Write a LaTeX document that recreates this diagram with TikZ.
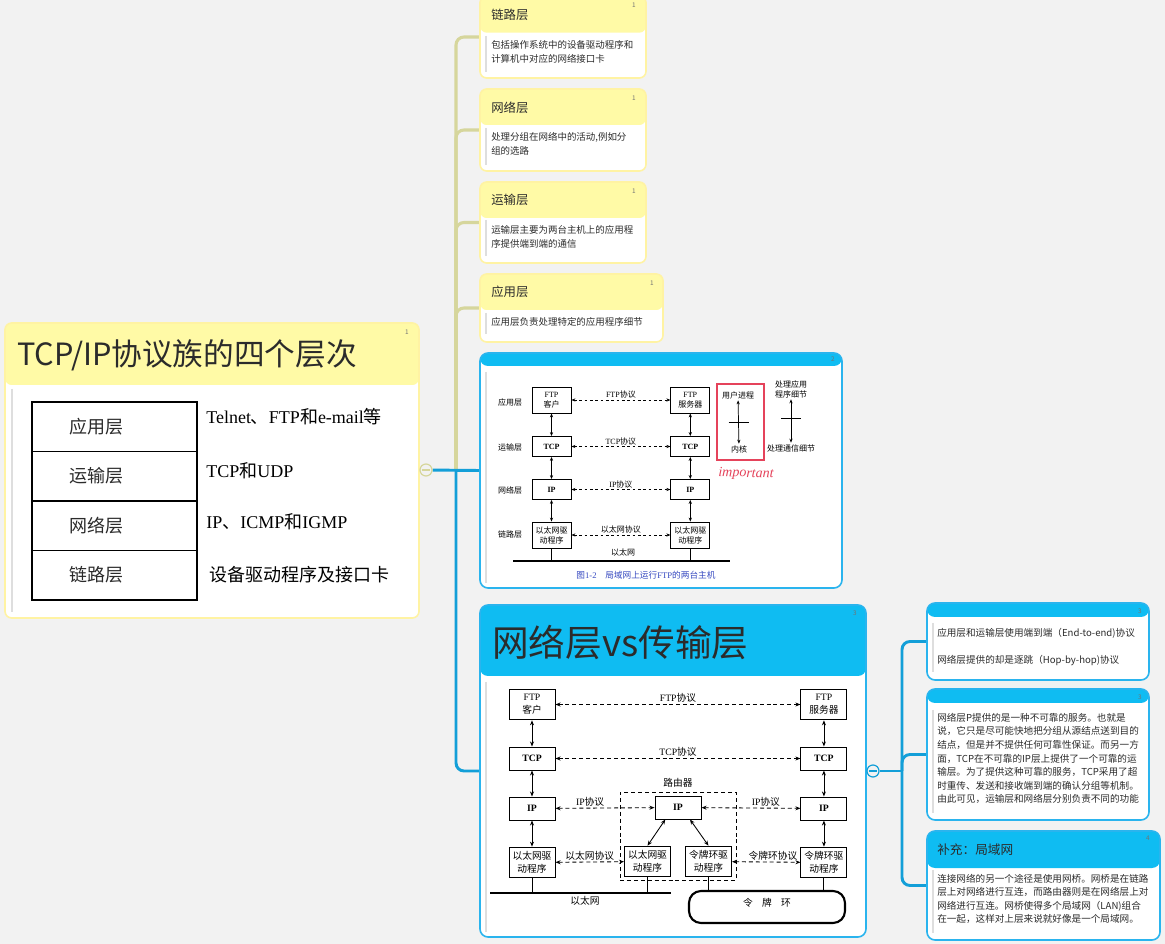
\documentclass[tikz,border=0pt]{standalone}
\usepackage{fontspec}
\setmainfont{Noto Sans CJK SC}
\newfontfamily\tnr{Liberation Serif}
\usepackage{tikz}
\usetikzlibrary{arrows.meta,positioning,fit,calc,backgrounds}

\definecolor{pagebg}{HTML}{F2F2F2}
\definecolor{yhead}{HTML}{FFFAA6}
\definecolor{yedge}{HTML}{FFF3A3}
\definecolor{ywire}{HTML}{D6D69C}
\definecolor{bhead}{HTML}{0FBCF2}
\definecolor{bedge}{HTML}{2AB4EE}
\definecolor{bwire}{HTML}{139FD8}
\definecolor{ink}{HTML}{2B2B2B}
\definecolor{redmark}{HTML}{E5435B}
\definecolor{capblue}{HTML}{3548C0}

\begin{document}
\begin{tikzpicture}[
  x=0.75pt, y=-0.75pt,
  ycard/.style={draw=yedge, line width=1.2pt, fill=white, rounded corners=5pt, inner sep=0pt,
    path picture={\fill[yhead] (path picture bounding box.north west) rectangle ([yshift=-#1]path picture bounding box.north east);}},
  bcard/.style={draw=bedge, line width=1.2pt, fill=white, rounded corners=6pt, inner sep=0pt,
    path picture={\fill[bhead] (path picture bounding box.north west) rectangle ([yshift=-#1]path picture bounding box.north east);}},
  ctitle/.style={anchor=west, inner sep=0pt, text=ink, font=\fontsize{9.3}{11}\selectfont},
  ctext/.style={anchor=west, inner sep=0pt, align=left, text=ink, font=\fontsize{7.1}{10.5}\selectfont},
  badge/.style={inner sep=0pt, text=black!55, font=\fontsize{4.8}{5}\selectfont},
  quotebar/.style={draw=black!13, line width=1.1pt},
  ylink/.style={draw=ywire, line width=2.3pt},
  blink/.style={draw=bwire, line width=2.2pt},
  fold/.style={circle, draw=#1, line width=0.9pt, fill=pagebg, minimum size=9pt, inner sep=0pt,
    path picture={\draw[#1, line width=0.9pt] ([xshift=1.6pt]path picture bounding box.west) -- ([xshift=-1.6pt]path picture bounding box.east);}},
  layer/.style={draw, line width=1.3pt, outer sep=0pt, minimum height=37.1pt, text width=68pt,
    inner xsep=28pt, align=left, text=ink, font=\fontsize{13.5}{16}\selectfont},
  proto/.style={anchor=west, inner sep=0pt, text=black, font=\fontsize{13.5}{16}\selectfont},
  smallbox/.style={draw, line width=0.6pt, fill=white, align=center, inner sep=0.5pt,
    minimum width=29.25pt, minimum height=15pt, font=\fontsize{6}{7.5}\selectfont},
  bigbox/.style={draw, line width=0.7pt, fill=white, align=center, inner sep=0.5pt,
    minimum width=34.5pt, minimum height=17.25pt, font=\fontsize{7.3}{9.5}\selectfont},
  slbl/.style={inner sep=1pt, align=center, font=\fontsize{6}{7.5}\selectfont},
  blbl/.style={inner sep=1pt, align=center, font=\fontsize{7.3}{9}\selectfont},
  sarr/.style={{Stealth[length=3pt,width=2.4pt]}-{Stealth[length=3pt,width=2.4pt]}, line width=0.55pt},
  sdash/.style={sarr, dash pattern=on 2.2pt off 1.8pt},
  barr/.style={{Stealth[length=3.8pt,width=3pt]}-{Stealth[length=3.8pt,width=3pt]}, line width=0.65pt},
  bdash/.style={barr, dash pattern=on 3pt off 2.2pt}
]

\useasboundingbox (0,0) rectangle (1165,944);
\begin{scope}[on background layer]
  \fill[pagebg] (0,0) rectangle (1165,944);
\end{scope}

\node[ycard=46.5pt, fit={(5,323) (419,618)}] (root) {};
\node[anchor=west, inner sep=0pt, text=ink, font=\fontsize{23}{27}\selectfont] (rootTitle) at (17,355) {TCP/IP协议族的四个层次};
\node[badge] (rootNo) at (407,332) {1};
\draw[quotebar] (12,389) -- (12,612);

\node[layer] (lApp) at (114.5,426.75) {应用层};
\node[layer, below=0pt of lApp] (lTrans) {运输层};
\node[layer, below=0pt of lTrans] (lNet) {网络层};
\node[layer, below=0pt of lNet] (lLink) {链路层};
\node[proto] (pApp) at (206,417) {{\tnr Telnet}、{\tnr FTP}和{\tnr e-mail}等};
\node[proto] (pTrans) at (206,471) {{\tnr TCP}和{\tnr UDP}};
\node[proto] (pNet) at (206,522) {{\tnr IP}、{\tnr ICMP}和{\tnr IGMP}};
\node[proto] (pLink) at (209,575) {设备驱动程序及接口卡};

\node[fold=ywire] (rootFold) at (426,470) {};

\node[ycard=27.5pt, fit={(480,-4) (646,78)}] (cLink) {};
\node[ycard=27pt, fit={(480,89) (646,171)}] (cNet) {};
\node[ycard=27pt, fit={(480,182) (646,263)}] (cTrans) {};
\node[ycard=27pt, fit={(480,274) (663,342)}] (cApp) {};

\node[ctitle] (tLink) at (491,15) {链路层};
\node[ctext] (xLink) at (491,52) {包括操作系统中的设备驱动程序和\\计算机中对应的网络接口卡};
\node[badge] (nLink) at (634,5) {1};
\draw[quotebar] (486,36) -- (486,72);
\node[ctitle] (tNet) at (491,108) {网络层};
\node[ctext] (xNet) at (491,144) {处理分组在网络中的活动,例如分\\组的选路};
\node[badge] (nNet) at (634,98) {1};
\draw[quotebar] (486,128) -- (486,165);
\node[ctitle] (tTrans) at (491,200) {运输层};
\node[ctext] (xTrans) at (491,236.5) {运输层主要为两台主机上的应用程\\序提供端到端的通信};
\node[badge] (nTrans) at (634,191) {1};
\draw[quotebar] (486,220) -- (486,256);
\node[ctitle] (tApp) at (491,292) {应用层};
\node[ctext] (xApp) at (491,322) {应用层负责处理特定的应用程序细节};
\node[badge] (nApp) at (652,283) {1};
\draw[quotebar] (486,313) -- (486,334);

\node[bcard=9.75pt, fit={(480,353) (842,588)}] (figHosts) {};
\node[badge] (nHosts) at (833,359) {2};
\draw[quotebar] (486,372) -- (486,583);

\node[slbl] (sLayApp) at (510,402) {应用层};
\node[slbl] (sLayTrans) at (510,447) {运输层};
\node[slbl] (sLayNet) at (510,490) {网络层};
\node[slbl] (sLayLink) at (510,534) {链路层};

\node[smallbox, minimum height=19.5pt] (sAppL) at (551.5,400) {{\tnr FTP}\\客户};
\node[smallbox, minimum height=19.5pt, right=74.25pt of sAppL] (sAppR) {{\tnr FTP}\\服务器};
\node[smallbox] (sTcpL) at (551.5,446.5) {\tnr\bfseries TCP};
\node[smallbox, right=74.25pt of sTcpL] (sTcpR) {\tnr\bfseries TCP};
\node[smallbox] (sIpL) at (551.5,489.5) {\tnr\bfseries IP};
\node[smallbox, right=74.25pt of sIpL] (sIpR) {\tnr\bfseries IP};
\node[smallbox, minimum height=19.5pt] (sEthL) at (551.5,535) {以太网驱\\动程序};
\node[smallbox, minimum height=19.5pt, right=74.25pt of sEthL] (sEthR) {以太网驱\\动程序};

\draw[sdash] (sAppL) -- node[slbl, above] (sFtpP) {{\tnr FTP}协议} (sAppR);
\draw[sdash] (sTcpL) -- node[slbl, above] (sTcpP) {{\tnr TCP}协议} (sTcpR);
\draw[sdash] (sIpL) -- node[slbl, above] (sIpP) {{\tnr IP}协议} (sIpR);
\draw[sdash] (sEthL) -- node[slbl, above] (sEthP) {以太网协议} (sEthR);
\draw[sarr] (sAppL) -- (sTcpL);
\draw[sarr] (sTcpL) -- (sIpL);
\draw[sarr] (sIpL) -- (sEthL);
\draw[sarr] (sAppR) -- (sTcpR);
\draw[sarr] (sTcpR) -- (sIpR);
\draw[sarr] (sIpR) -- (sEthR);

\coordinate (sNetA) at (513,561);
\coordinate (sNetB) at (730,561);
\draw[line width=1.4pt] (sNetA) -- (sNetB);
\draw[line width=0.6pt] (sEthL.south) -- (sEthL.south |- sNetA);
\draw[line width=0.6pt] (sEthR.south) -- (sEthR.south |- sNetA);
\node[slbl] (sNetLbl) at (623,552) {以太网};

\node[draw=redmark, line width=1.1pt, fit={(717,384) (764,460)}, inner sep=0pt] (kbox) {};
\node[slbl] (uproc) at (738,395) {用户进程};
\node[slbl] (kern) at (739,449) {内核};
\draw[sarr] (uproc) -- (kern);
\draw[line width=0.6pt] ($(uproc)!0.5!(kern)$) ++(-7.5pt,0) -- ++(15pt,0);
\node[slbl] (appd) at (791,389) {处理应用\\程序细节};
\node[slbl] (comd) at (791,448) {处理通信细节};
\draw[sarr] (appd) -- (comd);
\draw[line width=0.6pt] ($(appd)!0.5!(comd)$) ++(-7.5pt,0) -- ++(15pt,0);
\node[text=redmark, inner sep=0pt, rotate=-2, font=\tnr\itshape\fontsize{10.5}{12}\selectfont] (imp) at (746,474) {important};
\node[text=capblue, inner sep=0pt, font=\fontsize{6.5}{8}\selectfont] (sCap) at (646,575) {图{\tnr 1-2}\quad 局域网上运行{\tnr FTP}的两台主机};

\node[bcard=53.25pt, fit={(480,605) (866,937)}] (figRouter) {};
\node[anchor=west, inner sep=0pt, text=ink, font=\fontsize{27.5}{32}\selectfont] (routerTitle) at (492,642) {网络层vs传输层};
\node[badge] (nRouter) at (855,613) {3};
\draw[quotebar] (486,682) -- (486,932);

\node[bigbox, minimum height=23pt] (bFtpL) at (532,704.5) {{\tnr FTP}\\客户};
\node[bigbox, minimum height=23pt, right=183.75pt of bFtpL] (bFtpR) {{\tnr FTP}\\服务器};
\node[bigbox] (bTcpL) at (532,758.5) {\tnr\bfseries TCP};
\node[bigbox, right=183.75pt of bTcpL] (bTcpR) {\tnr\bfseries TCP};
\node[bigbox] (bIpL) at (532,808.5) {\tnr\bfseries IP};
\node[bigbox, right=183.75pt of bIpL] (bIpR) {\tnr\bfseries IP};
\node[bigbox, minimum height=23pt] (bEthL) at (532,862.5) {以太网驱\\动程序};
\node[bigbox, minimum height=23pt, right=183.75pt of bEthL] (bTokR) {令牌环驱\\动程序};

\node[draw, line width=0.7pt, dash pattern=on 3pt off 2.2pt, fit={(620,792) (736,880)}, inner sep=0pt] (router) {};
\node[blbl, above=2pt of router] (routerLbl) {路由器};
\node[bigbox] (rIp) at (678,807.5) {\tnr\bfseries IP};
\node[bigbox, minimum height=23pt] (rEth) at (647.5,861.5) {以太网驱\\动程序};
\node[bigbox, minimum height=23pt] (rTok) at (708.5,861.5) {令牌环驱\\动程序};

\draw[bdash] (bFtpL) -- node[blbl, above] (pFtp) {{\tnr FTP}协议} (bFtpR);
\draw[bdash] (bTcpL) -- node[blbl, above] (pTcp) {{\tnr TCP}协议} (bTcpR);
\draw[bdash] (bIpL) -- node[blbl, above, pos=0.35] (pIpL) {{\tnr IP}协议} (rIp);
\draw[bdash] (rIp) -- node[blbl, above, pos=0.65] (pIpR) {{\tnr IP}协议} (bIpR);
\draw[bdash] (bEthL) -- node[blbl, above] (pEth) {以太网协议} (rEth);
\draw[bdash] (rTok) -- node[blbl, above, pos=0.6] (pTok) {令牌环协议} (bTokR);
\draw[barr] (bFtpL) -- (bTcpL);
\draw[barr] (bTcpL) -- (bIpL);
\draw[barr] (bIpL) -- (bEthL);
\draw[barr] (bFtpR) -- (bTcpR);
\draw[barr] (bTcpR) -- (bIpR);
\draw[barr] (bIpR) -- (bTokR);
\draw[barr] ([xshift=-9.5pt]rIp.south) -- (rEth.north);
\draw[barr] ([xshift=9pt]rIp.south) -- (rTok.north);

\coordinate (bNetA) at (490,893);
\coordinate (bNetB) at (671,893);
\draw[line width=1.6pt] (bNetA) -- (bNetB);
\draw[line width=0.7pt] (bEthL.south) -- (bEthL.south |- bNetA);
\draw[line width=0.7pt] (rEth.south) -- (rEth.south |- bNetA);
\node[blbl] (bNetLbl) at (585,901) {以太网};
\node[draw, line width=1.6pt, rounded corners=9pt, fit={(689,891) (845,923)}, inner sep=0pt,
  font=\fontsize{7.3}{9}\selectfont] (ring) {令\hspace{7pt}牌\hspace{7pt}环};
\draw[line width=0.7pt] (rTok.south) -- (rTok.south |- ring.north);
\draw[line width=0.7pt] (bTokR.south) -- (bTokR.south |- ring.north);

\node[fold=bwire] (routerFold) at (873,771) {};

\node[bcard=10.5pt, fit={(927,603) (1149,680)}] (noteA) {};
\node[bcard=10.5pt, fit={(927,689) (1149,820)}] (noteB) {};
\node[bcard=27.75pt, fit={(927,831) (1160,940)}] (noteC) {};

\node[badge] (nA) at (1140,611) {3};
\draw[quotebar] (933,623) -- (933,672);
\node[ctext, font=\fontsize{7.2}{10.2}\selectfont] (xA1) at (937,633) {应用层和运输层使用端到端（End-to-end)协议};
\node[ctext, font=\fontsize{7.2}{10.2}\selectfont] (xA2) at (937,661) {网络层提供的却是逐跳（Hop-by-hop)协议};

\node[badge] (nB) at (1140,697) {3};
\draw[quotebar] (933,710) -- (933,813);
\node[ctext, font=\fontsize{7.2}{10.2}\selectfont] (xB) at (937,758.5) {网络层P提供的是一种不可靠的服务。也就是\\说，它只是尽可能快地把分组从源结点送到目的\\结点，但是并不提供任何可靠性保证。而另一方\\面，TCP在不可靠的IP层上提供了一个可靠的运\\输层。为了提供这种可靠的服务，TCP采用了超\\时重传、发送和接收端到端的确认分组等机制。\\由此可见，运输层和网络层分别负责不同的功能};

\node[badge] (nC) at (1148,838) {4};
\node[ctitle, font=\fontsize{9.5}{11}\selectfont] (tC) at (937,850) {补充：局域网};
\draw[quotebar] (933,870) -- (933,933);
\node[ctext, font=\fontsize{7.2}{10}\selectfont] (xC) at (937,899) {连接网络的另一个途径是使用网桥。网桥是在链路\\层上对网络进行互连，而路由器则是在网络层上对\\网络进行互连。网桥使得多个局域网（LAN)组合\\在一起，这样对上层来说就好像是一个局域网。};

\begin{scope}[on background layer]
  \coordinate (yJoin) at (456,470);
  \draw[ylink, rounded corners=6pt] (yJoin) |- (cLink.west);
  \draw[ylink, rounded corners=6pt] (yJoin) |- (cNet.west);
  \draw[ylink, rounded corners=6pt] (yJoin) |- (cTrans.west);
  \draw[ylink, rounded corners=6pt] (yJoin) |- (cApp.west);
  \draw[blink] (rootFold) -- (figHosts.west);
  \draw[blink, rounded corners=6pt] (yJoin) |- (figRouter.west);
  \coordinate (bJoin) at (902,771);
  \draw[blink] (routerFold) -- (bJoin);
  \draw[blink, rounded corners=6pt] (bJoin) |- (noteA.west);
  \draw[blink, rounded corners=6pt] (bJoin) |- (noteB.west);
  \draw[blink, rounded corners=6pt] (bJoin) |- (noteC.west);
\end{scope}

\end{tikzpicture}
\end{document}
